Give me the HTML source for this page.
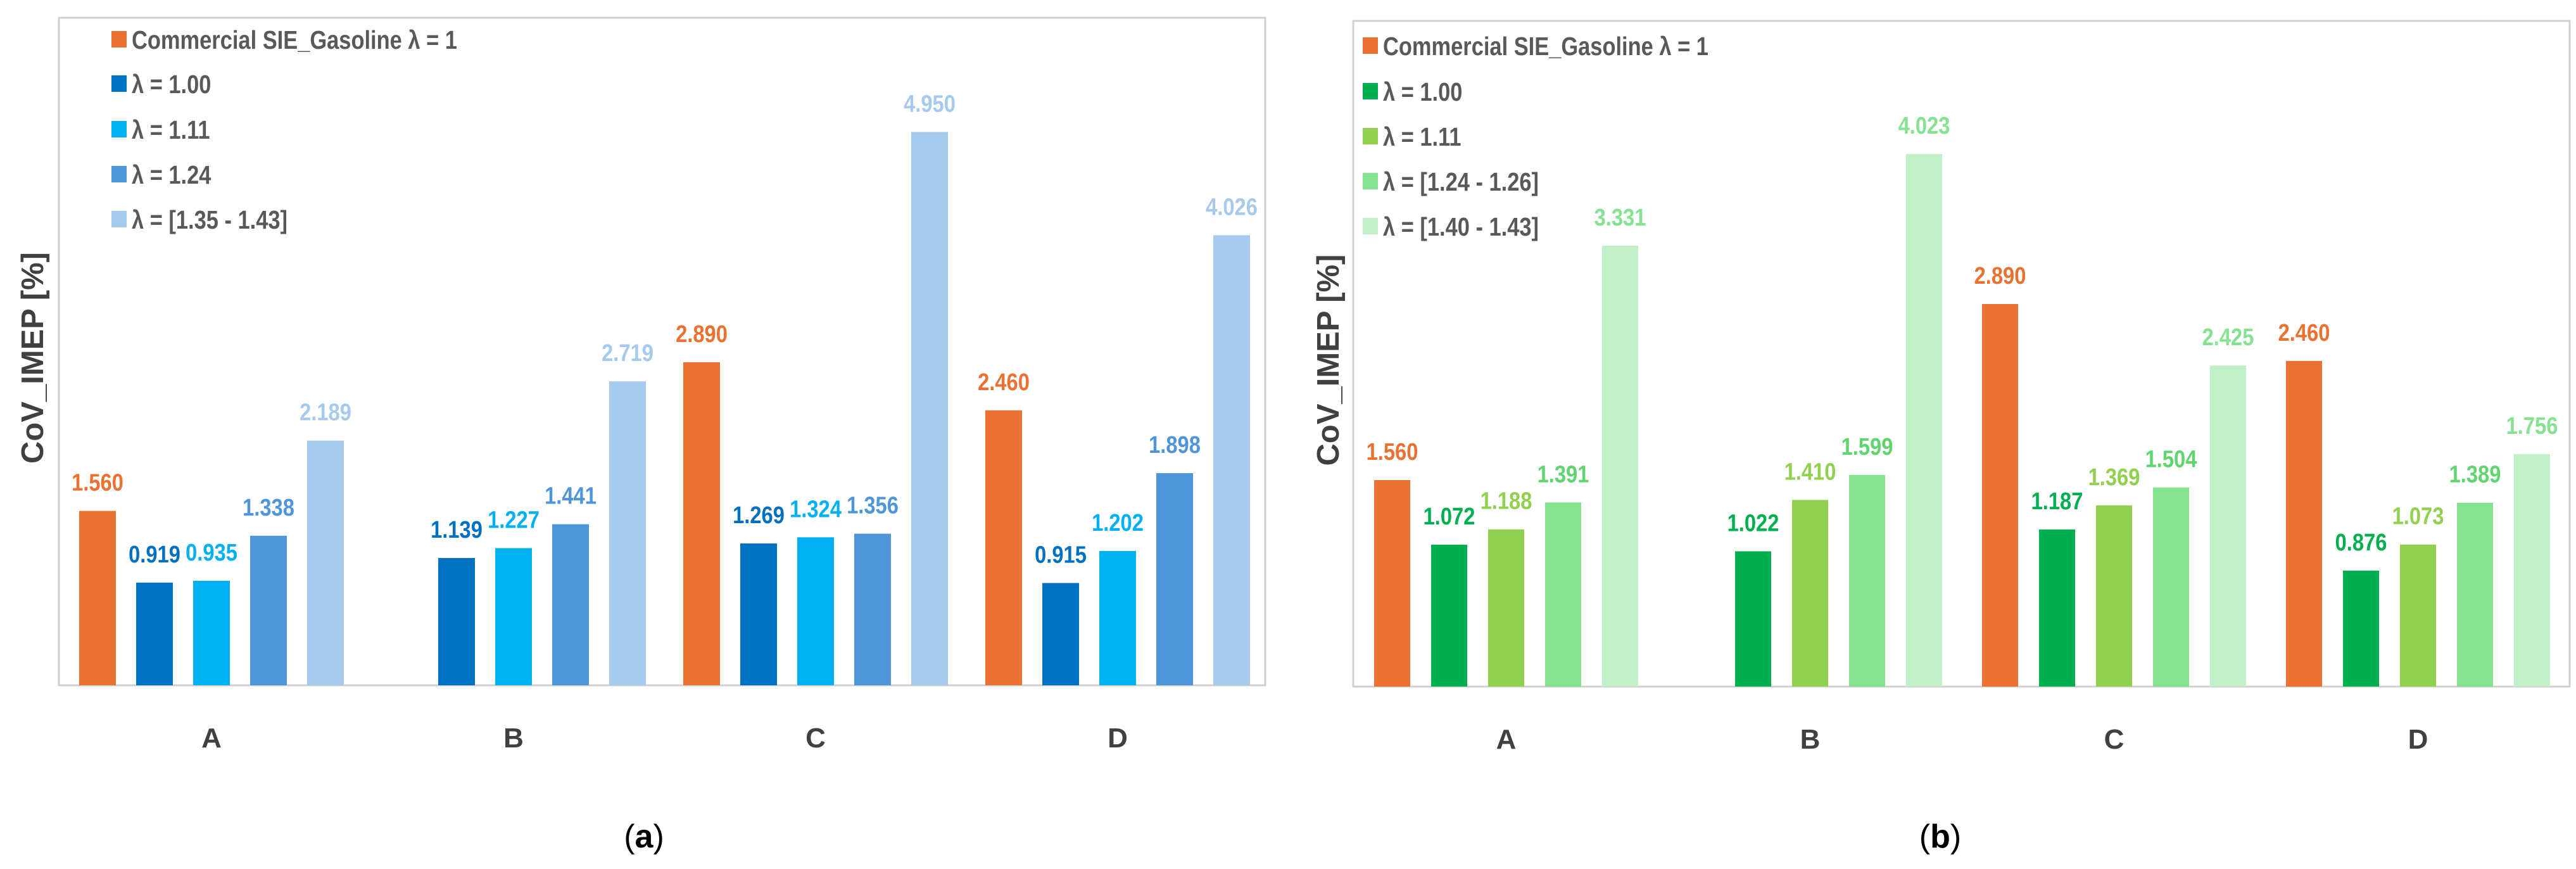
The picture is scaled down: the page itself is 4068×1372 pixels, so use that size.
<!DOCTYPE html>
<html><head><meta charset="utf-8"><style>
html,body{margin:0;padding:0;background:#fff;}
svg{display:block;}
text{font-family:"Liberation Sans",sans-serif;}
</style></head><body>
<svg id="fig" width="4068" height="1372" viewBox="0 0 4068 1372" xmlns="http://www.w3.org/2000/svg"></svg>
<script>
const categories = ["A","B","C","D"];
// panel a
const aSeriesNames = ["Commercial SIE_Gasoline λ = 1","λ = 1.00","λ = 1.11","λ = 1.24","λ = [1.35 - 1.43]"];
const aCommercial = [1.560, null, 2.890, 2.460];
const aL100 = [0.919, 1.139, 1.269, 0.915];
const aL111 = [0.935, 1.227, 1.324, 1.202];
const aL124 = [1.338, 1.441, 1.356, 1.898];
const aL135 = [2.189, 2.719, 4.950, 4.026];
// panel b
const bSeriesNames = ["Commercial SIE_Gasoline λ = 1","λ = 1.00","λ = 1.11","λ = [1.24 - 1.26]","λ = [1.40 - 1.43]"];
const bCommercial = [1.560, null, 2.890, 2.460];
const bL100 = [1.072, 1.022, 1.187, 0.876];
const bL111 = [1.188, 1.410, 1.369, 1.073];
const bL124 = [1.391, 1.599, 1.504, 1.389];
const bL140 = [3.331, 4.023, 2.425, 1.756];

const NS = "http://www.w3.org/2000/svg";
const svg = document.getElementById('fig');
function mk(tag, attrs, parent){
  const e = document.createElementNS(NS, tag);
  for (const k in attrs) e.setAttribute(k, attrs[k]);
  (parent||svg).appendChild(e);
  return e;
}

function drawPanel(cfg){
  const g = mk('g', {});
  
  
  const frame = mk('rect', {x:cfg.left, y:cfg.top, width:cfg.right-cfg.left, height:cfg.base-cfg.top, fill:'none', stroke:'#D0D0D0', 'stroke-width':3}, g);
  
  
  const yScale = v => cfg.base - v*cfg.ppu;
  const xBar = (ci, si) => cfg.x0 + ci*cfg.groupPitch + si*cfg.barPitch;
  cfg.series.forEach((vals, si) => {
    vals.forEach((v, ci) => {
      if (v === null) return;
      const x = xBar(ci, si), y = yScale(v);
      const r = mk('rect', {x:x, y:y, width:cfg.barW, height:cfg.base - y, fill:cfg.colors[si]}, g);
      
      
      const cx = x + cfg.barW/2;
      const t = mk('text', {x:0, y:0, transform:'translate('+cx+','+(y-32)+') scale(0.86,1)', 'text-anchor':'middle', 'font-size':38, 'font-weight':'bold', fill:cfg.labelColors[si]}, g);
      t.textContent = v.toFixed(3);
      
      
    });
  });
  categories.forEach((c, ci) => {
    const cx = xBar(ci, 0) + (4*cfg.barPitch + cfg.barW)/2;
    const t = mk('text', {x:cx, y:cfg.base+98, 'text-anchor':'middle', 'font-size':44, 'font-weight':'bold', fill:'#404040'}, g);
    t.textContent = c;
    
    
  });
  const yt = mk('text', {x:0, y:0, transform:'translate('+cfg.ytx+','+((cfg.top+cfg.base)/2+10)+') rotate(-90)', 'text-anchor':'middle', 'font-size':49, 'font-weight':'bold', fill:'#404040'}, g);
  yt.textContent = 'CoV_IMEP [%]';
  
  
  cfg.legendNames.forEach((n, i) => {
    const cy = cfg.legY[i];
    const sq = mk('rect', {x:cfg.legX, y:cy-13, width:24, height:26, fill:cfg.colors[i]}, g);
    
    
    const t = mk('text', {x:0, y:0, transform:'translate('+(cfg.legX+32)+','+(cy+15)+') scale(0.84,1)', 'font-size':41, 'font-weight':'bold', fill:'#595959'}, g);
    t.textContent = n;
    
    
  });
  const cap = mk('text', {x:cfg.capX, y:1338, 'text-anchor':'middle', 'font-size':52, 'font-family':'"Liberation Serif",serif', fill:'#000'}, g);
  cap.innerHTML = '(<tspan font-weight="bold">' + cfg.cap + '</tspan>)';
  
  
}

drawPanel({
  name:'chart-a', left:93, right:1998, top:28, base:1082, ppu:176.5,
  x0:125, barW:58, barPitch:90, groupPitch:477,
  series:[aCommercial,aL100,aL111,aL124,aL135],
  colors:['#E97132','#0070C0','#00B0F0','#4E95D9','#A6CAEC'],
  labelColors:['#E97132','#0070C0','#00B0F0','#4E95D9','#A6CAEC'],
  legendNames:aSeriesNames, legX:176, legY:[62,132,204,275,346],
  ytx:68, capX:1017, cap:'a'
});
drawPanel({
  name:'chart-b', left:2137, right:4058, top:33, base:1084, ppu:209,
  x0:2170, barW:57, barPitch:90, groupPitch:480,
  series:[bCommercial,bL100,bL111,bL124,bL140],
  colors:['#E97132','#00B050','#92D050','#84E291','#C1F0C8'],
  labelColors:['#E97132','#00B050','#92D050','#5FD46F','#84E291'],
  legendNames:bSeriesNames, legX:2152, legY:[72,144,215,286,357],
  ytx:2114, capX:3064, cap:'b'
});
</script>
</body></html>
